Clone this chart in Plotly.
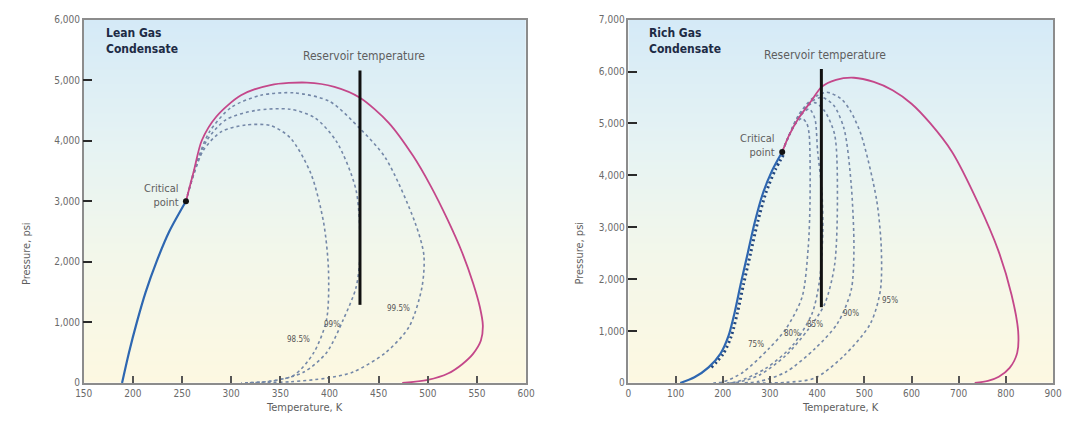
import plotly.graph_objects as go

# ---------------- data: Lean gas condensate ----------------
lean_bubble_T = [189, 196, 204, 213, 224, 237, 254]
lean_bubble_P = [0, 500, 1000, 1500, 2000, 2500, 3000]
lean_dew_T = [254, 262, 270, 285, 310, 340, 377, 405, 431, 460, 485, 503, 520, 535, 546, 553, 556, 554, 546, 535, 521, 500, 474]
lean_dew_P = [3000, 3500, 4000, 4400, 4750, 4920, 4960, 4890, 4710, 4300, 3750, 3250, 2700, 2150, 1650, 1250, 950, 700, 480, 310, 160, 50, 0]
lean_q985_T = [254, 262, 272, 290, 315, 340, 360, 381, 394, 399, 397, 384, 364, 340, 310]
lean_q985_P = [3000, 3450, 3850, 4150, 4260, 4250, 4050, 3460, 2650, 1850, 1045, 500, 130, 30, 0]
lean_q99_T = [254, 263, 275, 295, 325, 360, 385, 407, 427, 431, 427, 414, 397, 374, 345, 315]
lean_q99_P = [3000, 3500, 4000, 4350, 4500, 4520, 4380, 3990, 3185, 2110, 1576, 1045, 500, 180, 40, 0]
lean_q995_T = [254, 264, 278, 300, 330, 364, 400, 431, 457, 487, 496, 494, 481, 457, 424, 397, 360, 320]
lean_q995_P = [3000, 3600, 4150, 4550, 4750, 4790, 4650, 4200, 3715, 2650, 2110, 1576, 930, 500, 180, 80, 20, 0]
lean_crit = (254, 3000)
lean_res_T = 431
lean_res_P = [1290, 5160]
lean_labels = ["98.5%", "99%", "99.5%"]
lean_label_T = [368, 403, 470]
lean_label_P = [720, 960, 1230]

# ---------------- data: Rich gas condensate ----------------
rich_bubble_T = [110, 140, 170, 195, 212, 225, 238, 253, 268, 285, 305, 326]
rich_bubble_P = [0, 110, 300, 560, 900, 1350, 1900, 2500, 3100, 3650, 4100, 4450]
rich_dew_T = [326, 340, 360, 389, 409, 440, 478, 520, 560, 600, 640, 686, 742, 784, 812, 826, 824, 808, 785, 762, 734]
rich_dew_P = [4450, 4760, 5090, 5450, 5700, 5840, 5880, 5800, 5640, 5380, 5000, 4450, 3450, 2550, 1700, 1000, 580, 290, 120, 40, 0]
rich_q75_T = [326, 340, 355, 368, 378, 383, 385, 381, 368, 333, 297, 243, 201, 180]
rich_q75_P = [4450, 4750, 5000, 5100, 5000, 4800, 3530, 2590, 1650, 1030, 655, 206, 20, 0]
rich_q80_T = [326, 345, 365, 383, 395, 401, 410, 412, 405, 389, 347, 291, 229, 200]
rich_q80_P = [4450, 4850, 5150, 5280, 5100, 4470, 3700, 2900, 1970, 1330, 713, 280, 20, 0]
rich_q85_T = [326, 350, 375, 395, 415, 437, 443, 437, 416, 381, 333, 277, 235, 215]
rich_q85_P = [4450, 4950, 5300, 5400, 5250, 4790, 3530, 2270, 1520, 1030, 525, 150, 20, 0]
rich_q90_T = [326, 355, 385, 410, 435, 457, 472, 478, 472, 443, 395, 333, 277, 240]
rich_q90_P = [4450, 5050, 5400, 5500, 5350, 4900, 3850, 2590, 1780, 1145, 657, 206, 30, 0]
rich_q95_T = [326, 360, 390, 420, 450, 470, 493, 526, 536, 534, 513, 457, 395, 333, 270]
rich_q95_P = [4450, 5150, 5480, 5600, 5480, 5250, 4790, 3530, 2590, 1780, 1145, 525, 94, 10, 0]
rich_crit = (326, 4450)
rich_res_T = 409
rich_res_P = [1460, 6050]
rich_labels = ["75%", "80%", "85%", "90%", "95%"]
rich_label_T = [270, 347, 395, 472, 555]
rich_label_P = [750, 957, 1126, 1332, 1595]

lean_xticks = [150, 200, 250, 300, 350, 400, 450, 500, 550, 600]
lean_yticks = [0, 1000, 2000, 3000, 4000, 5000, 6000]
rich_xticks = [0, 100, 200, 300, 400, 500, 600, 700, 800, 900]
rich_yticks = [0, 1000, 2000, 3000, 4000, 5000, 6000, 7000]

# ---------------- styles ----------------
FONT = "Liberation Sans Narrow, DejaVu Sans Condensed, Roboto Condensed, Arial Narrow, Liberation Sans, sans-serif"
BLUE = "#2e67b1"
PINK = "#c4478a"
DASH = "#7488a8"
GRAY_TXT = "#5e5e5e"
W, H = 1066, 425

bg_scale = [[0.0, "#fdf8e1"], [0.35, "#f3f7ea"], [0.65, "#e6f3f3"], [1.0, "#d5eaf7"]]

fig = go.Figure()


def add_panel(xa, ya, xr, yr, bubble, dew, quals, crit, resT, resP, labels, lT, lP, hatch=False):
    xs = "x" if xa == 1 else "x%d" % xa
    ys = "y" if ya == 1 else "y%d" % ya
    # background gradient
    fig.add_trace(go.Heatmap(x=[xr[0], xr[1]], y=[yr[0] + (yr[1] - yr[0]) * k / 4 for k in range(5)],
                             z=[[k / 4, k / 4] for k in range(5)], zsmooth="best",
                             colorscale=bg_scale, showscale=False, hoverinfo="skip",
                             xaxis=xs, yaxis=ys))
    for qT, qP in quals:
        fig.add_trace(go.Scatter(x=qT, y=qP, mode="lines", xaxis=xs, yaxis=ys,
                                 line=dict(color=DASH, width=1.6, dash="3px,3px", shape="spline", smoothing=0.8),
                                 showlegend=False, hoverinfo="skip"))
    if hatch:
        fig.add_trace(go.Scatter(x=[t + 6 for t in bubble[0][2:]], y=bubble[1][2:], mode="lines",
                                 xaxis=xs, yaxis=ys,
                                 line=dict(color="#23477e", width=3, dash="2px,3px", shape="spline", smoothing=0.8),
                                 showlegend=False, hoverinfo="skip"))
    fig.add_trace(go.Scatter(x=bubble[0], y=bubble[1], mode="lines", xaxis=xs, yaxis=ys,
                             line=dict(color=BLUE, width=2.2, shape="spline", smoothing=0.8),
                             showlegend=False, hoverinfo="skip"))
    fig.add_trace(go.Scatter(x=dew[0], y=dew[1], mode="lines", xaxis=xs, yaxis=ys,
                             line=dict(color=PINK, width=1.8, shape="spline", smoothing=0.8),
                             showlegend=False, hoverinfo="skip"))
    fig.add_trace(go.Scatter(x=[resT, resT], y=resP, mode="lines", xaxis=xs, yaxis=ys,
                             line=dict(color="#111111", width=3), showlegend=False, hoverinfo="skip"))
    fig.add_trace(go.Scatter(x=[crit[0]], y=[crit[1]], mode="markers", xaxis=xs, yaxis=ys,
                             marker=dict(color="#111111", size=6), showlegend=False, hoverinfo="skip"))
    fig.add_annotation(x=crit[0], y=crit[1], xref=xs, yref=ys, text="Critical<br>point",
                       showarrow=False, xanchor="right", yanchor="middle", xshift=-5, yshift=6, align="right",
                       font=dict(family=FONT, size=11, color=GRAY_TXT))
    fig.add_annotation(x=resT, y=resP[1], xref=xs, yref=ys, text="Reservoir temperature",
                       showarrow=False, xanchor="center", yanchor="bottom", yshift=5, xshift=4,
                       font=dict(family=FONT, size=12, color=GRAY_TXT))
    for t, x, y in zip(labels, lT, lP):
        fig.add_annotation(x=x, y=y, xref=xs, yref=ys, text=t, showarrow=False,
                           xanchor="center", yanchor="middle",
                           font=dict(family=FONT, size=8, color="#555555"))


add_panel(1, 1, (150, 600), (0, 6000), (lean_bubble_T, lean_bubble_P), (lean_dew_T, lean_dew_P),
          [(lean_q985_T, lean_q985_P), (lean_q99_T, lean_q99_P), (lean_q995_T, lean_q995_P)],
          lean_crit, lean_res_T, lean_res_P, lean_labels, lean_label_T, lean_label_P)
add_panel(2, 2, (0, 900), (0, 7000), (rich_bubble_T, rich_bubble_P), (rich_dew_T, rich_dew_P),
          [(rich_q75_T, rich_q75_P), (rich_q80_T, rich_q80_P), (rich_q85_T, rich_q85_P),
           (rich_q90_T, rich_q90_P), (rich_q95_T, rich_q95_P)],
          rich_crit, rich_res_T, rich_res_P, rich_labels, rich_label_T, rich_label_P, hatch=True)

y_dom = [(H - 388) / H, (H - 15) / H]


def xaxis(dom, rng, ticks):
    return dict(domain=dom, range=rng, tickvals=ticks, ticks="inside", ticklen=7, tickwidth=1.5,
                tickcolor="#555555", showline=True, linecolor="#8c8c8c", linewidth=1.5, mirror=True,
                showgrid=False, zeroline=False, tickfont=dict(family=FONT, size=10, color="#6a6a6a"))


def yaxis(anchor, rng, ticks):
    return dict(domain=y_dom, range=rng, tickvals=ticks, tickformat=",d", ticks="inside", ticklen=9,
                tickwidth=2, tickcolor="#2a2a2a", showline=True, linecolor="#8c8c8c", linewidth=1.5,
                mirror=True, showgrid=False, zeroline=False, anchor=anchor,
                tickfont=dict(family=FONT, size=10, color="#6a6a6a"))


fig.update_layout(
    width=W, height=H, margin=dict(l=0, r=0, t=0, b=0),
    paper_bgcolor="white", plot_bgcolor="white", showlegend=False,
    xaxis=xaxis([76 / W, 526 / W], [150, 600], lean_xticks) | dict(anchor="y"),
    yaxis=yaxis("x", [0, 6000], lean_yticks),
    xaxis2=xaxis([630 / W, 1062 / W], [0, 900], rich_xticks) | dict(anchor="y2"),
    yaxis2=yaxis("x2", [0, 7000], rich_yticks),
)

# panel titles
for xref, txt in (("x domain", "Lean Gas<br>Condensate"), ("x2 domain", "Rich Gas<br>Condensate")):
    fig.add_annotation(x=0.045, y=0.955, xref=xref, yref="paper", text="<b>%s</b>" % txt,
                       showarrow=False, xanchor="left", yanchor="top", align="left",
                       font=dict(family=FONT, size=12, color="#1e2b45"))
# axis titles
for xpx, xc in ((18, 301), (580, 846)):
    fig.add_annotation(x=xpx / W, y=(H - 255) / H, xref="paper", yref="paper", text="Pressure, psi",
                       textangle=-90, showarrow=False, xanchor="center", yanchor="middle",
                       font=dict(family=FONT, size=11, color=GRAY_TXT))
    fig.add_annotation(x=xc / W, y=(H - 413) / H, xref="paper", yref="paper", text="Temperature, K",
                       showarrow=False, xanchor="center", yanchor="middle",
                       font=dict(family=FONT, size=11, color=GRAY_TXT))

fig.write_html("out.html", post_script="document.body.style.margin='0';document.body.style.overflow='hidden';")
